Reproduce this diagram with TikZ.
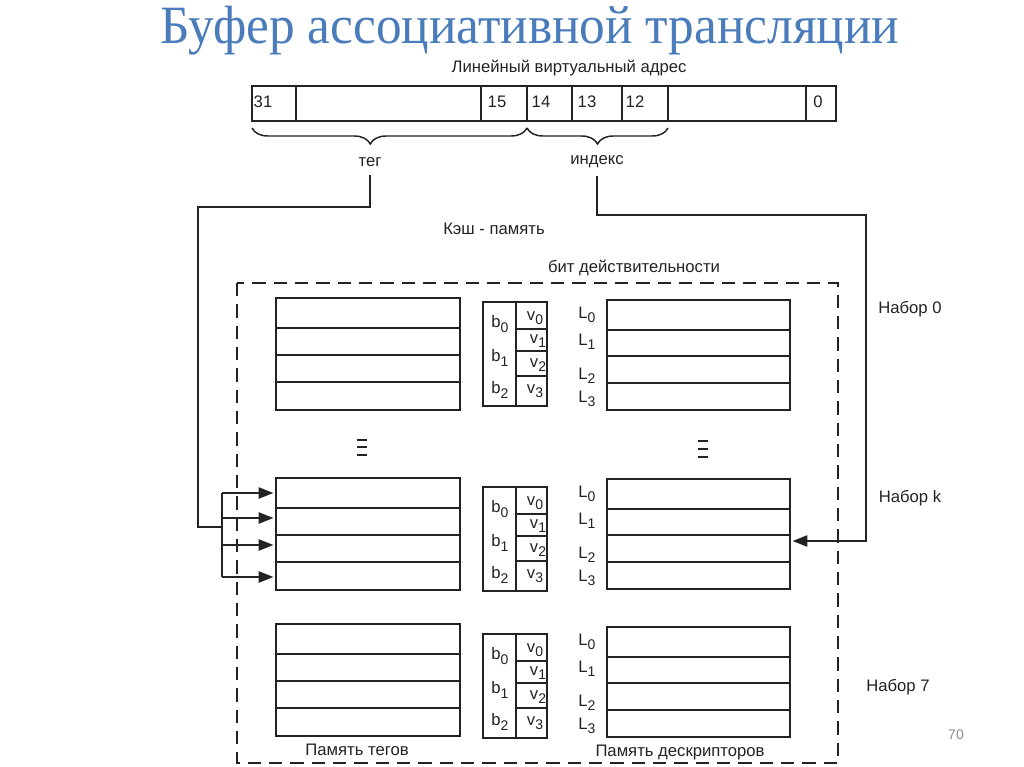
\documentclass[tikz,border=0pt]{standalone}
\usepackage{fontspec}
\setmainfont{Liberation Sans}
\newfontfamily\titlefont{Liberation Serif}
\usetikzlibrary{arrows.meta,decorations.pathreplacing,fit}
\definecolor{titleblue}{RGB}{74,124,187}
\definecolor{ink}{RGB}{35,35,35}
\newcommand\lsub[2]{#1\raisebox{-0.5ex}{\fontsize{10.5}{10.5}\selectfont #2}}
\begin{document}
\begin{tikzpicture}[x=0.75pt,y=-0.75pt,
  ln/.style={draw=ink,line width=1.1pt},
  blk/.style={draw=ink,line width=1.1pt,inner sep=0pt},
  lbl/.style={inner sep=0pt,font=\fontsize{12.5}{14}\selectfont,text=ink},
  ar/.style={ln,-{Triangle[length=11pt,width=8.5pt]},shorten >=2pt},
  brc/.style={ln,decorate,decoration={brace,mirror,amplitude=12pt}}]
\useasboundingbox (0,0) rectangle (1024,767);
\fill[white] (0,0) rectangle (1024,767);
% title
\node[inner sep=0pt,text=titleblue,font=\titlefont\fontsize{38.5}{40}\selectfont] (title) at (530,31) {\scalebox{1}[1.05]{Буфер ассоциативной трансляции}};
% address register
\node[lbl] (addrlbl) at (569,68) {Линейный виртуальный адрес};
\node[blk,fit={(252,86) (836,121)}] (addr) {};
\foreach \xx in {296,481,527,572,622,668,806} \draw[ln] (\xx,86) -- (\xx,121);
\foreach \xx/\tt/\nn in {263/31/b31,497/15/b15,541/14/b14,587/13/b13,635/12/b12,818/0/b0} \node[lbl] (\nn) at (\xx,102) {\tt};
% braces
\draw[brc,decoration={aspect=0.43}] (252,128) -- (527,128);
\draw[brc,decoration={aspect=0.5}] (527,128) -- (668,128);
\node[lbl] (teg) at (370,162) {тег};
\node[lbl] (idx) at (597,162) {индекс};
% labels
\node[lbl] (cache) at (494,229) {Кэш - память};
\node[lbl] (vbit) at (634,268) {бит действительности};
% dashed frame
\draw[ln,dash pattern=on 10pt off 6pt] (237,283) rectangle (838,763) node[coordinate] (frame) {};
% memory blocks
\foreach \nm/\ty/\vy/\dy in {0/298/302/300, k/478/487/479, 7/624/634/627}{
  \node[blk,fit={(276,\ty) (460,\ty+112)}] (tag\nm) {};
  \foreach \o in {30,57,84} \draw[ln] (276,\ty+\o) -- (460,\ty+\o);
  \node[blk,fit={(483,\vy) (547,\vy+104)}] (val\nm) {};
  \draw[ln] (516,\vy) -- (516,\vy+104);
  \foreach \o in {27,49,74} \draw[ln] (516,\vy+\o) -- (547,\vy+\o);
  \node[lbl] (b0\nm) at (500,\vy+22) {\lsub{b}{0}};
  \node[lbl] (b1\nm) at (500,\vy+56) {\lsub{b}{1}};
  \node[lbl] (b2\nm) at (500,\vy+88) {\lsub{b}{2}};
  \node[lbl] (v0\nm) at (535,\vy+16) {\lsub{v}{0}};
  \node[lbl] (v1\nm) at (538,\vy+39) {\lsub{v}{1}};
  \node[lbl] (v2\nm) at (538,\vy+63) {\lsub{v}{2}};
  \node[lbl] (v3\nm) at (535,\vy+89) {\lsub{v}{3}};
  \node[blk,fit={(607,\dy) (790,\dy+110)}] (desc\nm) {};
  \foreach \o in {30,56,83} \draw[ln] (607,\dy+\o) -- (790,\dy+\o);
  \node[lbl] (L0\nm) at (587,\dy+15) {\lsub{L}{0}};
  \node[lbl] (L1\nm) at (587,\dy+42) {\lsub{L}{1}};
  \node[lbl] (L2\nm) at (587,\dy+76) {\lsub{L}{2}};
  \node[lbl] (L3\nm) at (587,\dy+99) {\lsub{L}{3}};
}
% ellipses
\foreach \yy in {440,447,455} \draw[ln,line width=1pt] (357,\yy) -- (367,\yy);
\foreach \yy in {441,449,457} \draw[ln,line width=1pt] (698,\yy) -- (708,\yy);
% set labels
\node[lbl] (set0) at (910,309) {Набор 0};
\node[lbl] (setk) at (910,498) {Набор k};
\node[lbl] (set7) at (898,687) {Набор 7};
\node[lbl] (tagmem) at (357,750) {Память тегов};
\node[lbl] (descmem) at (680,752) {Память дескрипторов};
\node[inner sep=0pt,text=black!45,font=\fontsize{10.5}{12}\selectfont] (pg) at (956,735) {70};
% tag connector
\coordinate (c1) at (198,207);
\coordinate (bus) at (222,527);
\draw[ln] ([yshift=-6pt]teg.south) |- (c1) |- (bus);
\draw[ln] (222,493) -- (222,577);
\foreach \yy in {493,518,545,577}{
  \coordinate (s\yy) at (222,\yy);
  \coordinate (t\yy) at (276,\yy);
  \draw[ar] (s\yy) -- (t\yy);
}
% index connector
\coordinate (c2) at (866,215);
\coordinate (dk) at (790,541);
\draw[ar] ([yshift=-6pt]idx.south) |- (c2) |- (dk);
\end{tikzpicture}
\end{document}
